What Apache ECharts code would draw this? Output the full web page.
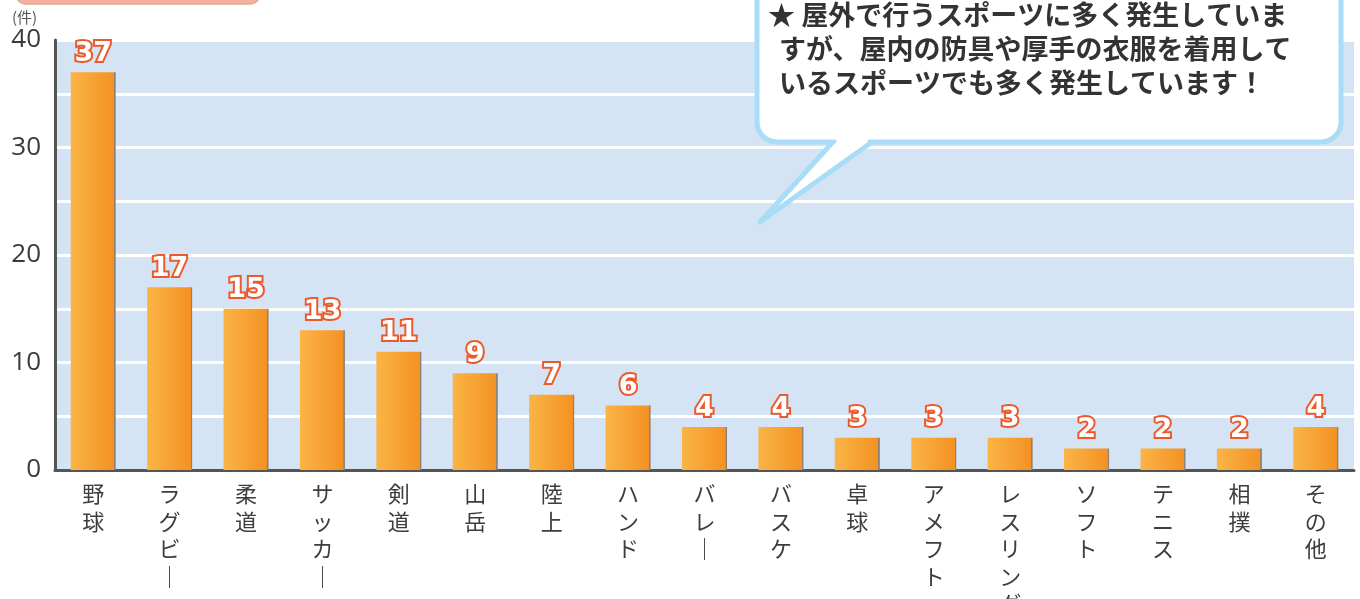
<!DOCTYPE html>
<html><head><meta charset="utf-8">
<script src="https://cdn.jsdelivr.net/npm/echarts@6/dist/echarts.min.js"></script>
<style>html,body{margin:0;padding:0;background:#fff}#c{width:1360px;height:599px}</style>
</head><body><div id="c"></div>
<script>
const categories = ['野球','ラグビー','柔道','サッカー','剣道','山岳','陸上','ハンド','バレー','バスケ','卓球','アメフト','レスリング','ソフト','テニス','相撲','その他'];
const counts = [37,17,15,13,11,9,7,6,4,4,3,3,3,2,2,2,4];
const yTickLabels = [0,10,20,30,40];
const unitLabel = '(件)';
const calloutLines = [
  '★ 屋外で行うスポーツに多く発生していま',
  'すが、屋内の防具や厚手の衣服を着用して',
  'いるスポーツでも多く発生しています！'
];

const chart = echarts.init(document.getElementById('c'), null, {renderer:'canvas'});
const jp = '"Noto Sans CJK JP","Noto Sans CJK SC",sans-serif';
const bubbleStroke = '#A9DDF7';

const option = {
  animation: false,
  backgroundColor: '#fff',
  grid: {left:55, right:6, top:40, bottom:129, show:true, backgroundColor:'#D4E4F4', borderWidth:0,
         containLabel:false, outerBoundsMode:'none'},
  xAxis: {
    type:'category', data:categories,
    axisLine:{lineStyle:{color:'#555', width:3}},
    axisTick:{inside:true, length:10, lineStyle:{color:'#555', width:2}},
    axisLabel:{
      interval:0, margin:10, fontSize:22, lineHeight:27.5, color:'#3d3d3d', fontFamily:jp, verticalAlign:'top',
      formatter: s => s.split('').map(ch => ch === 'ー' ? '｜' : ch).join('\n')
    },
    splitLine:{show:false}
  },
  yAxis: {
    type:'value', min:0, max:40, interval:5,
    axisLine:{show:true, lineStyle:{color:'#555', width:3}},
    axisTick:{show:false},
    axisLabel:{
      fontSize:26, color:'#3a3a3a', fontFamily:'"Open Sans",sans-serif', margin:14,
      formatter: v => yTickLabels.includes(v) ? String(v) : ''
    },
    splitLine:{lineStyle:{color:'#fff', width:3}}
  },
  series: [{
    type:'bar', data:counts, barWidth:45,
    itemStyle:{color:{type:'linear', x:0, y:0, x2:1, y2:0, colorStops:[
      {offset:0, color:'#FBB446'},
      {offset:0.965, color:'#F39223'},
      {offset:0.97, color:'#8E8073'},
      {offset:1, color:'#8E8073'}
    ]}},
    label:{
      show:true, position:'top', distance:5,
      fontSize:27, fontWeight:'bold', fontFamily:'"DejaVu Sans",sans-serif',
      color:'#fff', textBorderColor:'#EC5A2B', textBorderWidth:4
    }
  }],
  graphic: [
    {type:'rect', z:50, shape:{x:16, y:-30, width:244, height:34, r:10},
     style:{fill:'#F7B0A0', stroke:'#D6AE8A', lineWidth:1.5}},
    {type:'text', z:50, x:12, y:17,
     style:{text:unitLabel, font:'15px ' + jp, fill:'#555', verticalAlign:'middle'}},
    {type:'polygon', z:100, shape:{points:[[833,142],[760,222],[872,142]]},
     style:{fill:'#fff', stroke:bubbleStroke, lineWidth:5, lineJoin:'round'}},
    {type:'rect', z:101, shape:{x:757, y:-30, width:584, height:172, r:20},
     style:{fill:'#fff', stroke:bubbleStroke, lineWidth:5}},
    {type:'polygon', z:102, shape:{points:[[836.4,136],[867.7,136],[867.7,142],[856.5,150],[829.1,150],[836.4,142]]},
     style:{fill:'#fff'}},
    {type:'text', z:103, x:768, y:15,
     style:{text:calloutLines[0], font:'bold 27px ' + jp, fill:'#333', verticalAlign:'middle'}},
    {type:'text', z:103, x:779, y:49,
     style:{text:calloutLines[1], font:'bold 27px ' + jp, fill:'#333', verticalAlign:'middle'}},
    {type:'text', z:103, x:779, y:83,
     style:{text:calloutLines[2], font:'bold 27px ' + jp, fill:'#333', verticalAlign:'middle'}}
  ]
};
chart.setOption(option);
</script>
</body></html>
